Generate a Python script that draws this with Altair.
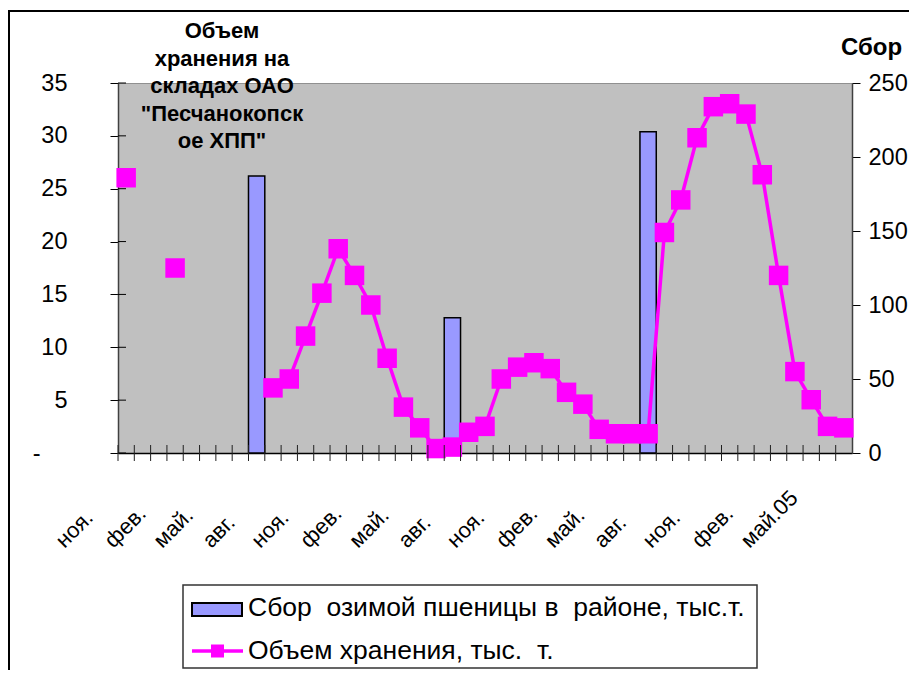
import altair as alt
import pandas as pd

FONT = "Liberation Sans"

# ---------------- data ----------------
months = ["окт.01", "ноя.01", "дек.01",
          "янв.02", "фев.02", "мар.02", "апр.02", "май.02", "июн.02",
          "июл.02", "авг.02", "сен.02", "окт.02", "ноя.02", "дек.02",
          "янв.03", "фев.03", "мар.03", "апр.03", "май.03", "июн.03",
          "июл.03", "авг.03", "сен.03", "окт.03", "ноя.03", "дек.03",
          "янв.04", "фев.04", "мар.04", "апр.04", "май.04", "июн.04",
          "июл.04", "авг.04", "сен.04", "окт.04", "ноя.04", "дек.04",
          "янв.05", "фев.05", "мар.05", "апр.05", "май.05", "июн.05"]

storage = [186, None, None, 125, None, None, None, None, None,
           44, 50, 79, 108, 138, 120, 100, 64, 31, 17, 3, 4,
           14, 18, 50, 58, 61, 57, 41, 33, 16, 13, 13, 13,
           149, 171, 213, 234, 236, 229, 188, 120, 55, 36, 18, 17]

harvest_cats = ["июн.02", "июн.03", "июн.04"]
harvest_vals = [26.2, 12.8, 30.4]

label_cats = ["ноя.01", "фев.02", "май.02", "авг.02", "ноя.02", "фев.03",
              "май.03", "авг.03", "ноя.03", "фев.04", "май.04", "авг.04",
              "ноя.04", "фев.05", "май.05"]
label_texts = ["ноя.", "фев.", "май.", "авг.", "ноя.", "фев.",
               "май.", "авг.", "ноя.", "фев.", "май.", "авг.",
               "ноя.", "фев.", "май.05"]

left_ticks = [0, 5, 10, 15, 20, 25, 30, 35]
right_ticks = [0, 50, 100, 150, 200, 250]

title_lines = ["Объем", "хранения на", "складах ОАО", "\"Песчанокопск", "ое ХПП\""]
series_bar = "Сбор\u00a0 озимой пшеницы в\u00a0 районе, тыс.т."
series_line = "Объем хранения, тыс.\u00a0 т."
right_title = "Сбор"

# ---------------- layout ----------------
W, H = 734, 370
PAD = {"left": 110, "top": 75, "right": 57, "bottom": 217}

X_SC = alt.Scale(domain=months, paddingInner=0, paddingOuter=0)
X_AX = alt.Axis(title=None, labels=False, ticks=False, grid=False,
                domainColor="black", domainWidth=1.5)


def xenc(**kw):
    return alt.X("m:N", scale=X_SC, axis=X_AX, **kw)


YL_SC = alt.Scale(domain=[0, 35], nice=False)
YL_AX = alt.Axis(title=None, orient="left", values=left_ticks, grid=False,
                 tickSize=8, tickColor="black", domainColor="#404040",
                 domainWidth=1.5, labelFont=FONT, labelFontSize=23.5,
                 labelColor="black",
                 labelPadding={"condition": {"test": "datum.value == 0", "value": 70},
                               "value": 43},
                 labelExpr="datum.value == 0 ? '-' : datum.label")

YR_SC = alt.Scale(domain=[0, 250], nice=False)
YR_AX = alt.Axis(title=right_title, orient="right", values=right_ticks, grid=False,
                 tickSize=8, tickColor="black", domainColor="#404040",
                 domainWidth=1.5, labelFont=FONT, labelFontSize=23.5,
                 labelColor="black", labelPadding=8,
                 titleFont=FONT, titleFontSize=24, titleFontWeight="bold",
                 titleColor="black", titleAngle=0, titleAlign="center",
                 titleBaseline="middle", titleX=19, titleY=-36)

one = pd.DataFrame({"a": [0]})

# frame
frame_top = alt.Chart(one).mark_rule(color="black", strokeWidth=2).encode(
    x=alt.value(-110), x2=alt.value(800), y=alt.value(-72))
frame_left = alt.Chart(one).mark_rule(color="black", strokeWidth=2).encode(
    x=alt.value(-109), y=alt.value(-73), y2=alt.value(620))

# bars (left axis)
bar_df = pd.DataFrame({"m": harvest_cats, "s": harvest_vals})
bars = alt.Chart(bar_df).mark_bar(color="#9999FF", stroke="black", strokeWidth=1.5).encode(
    x=xenc(), y=alt.Y("s:Q", scale=YL_SC, axis=YL_AX))
lticks = alt.Chart(pd.DataFrame({"s": left_ticks})).mark_rule(color="black").encode(
    y=alt.Y("s:Q", scale=YL_SC, axis=YL_AX), x=alt.value(0), x2=alt.value(8))
left = alt.layer(bars, lticks)

# line (right axis)
line_df = pd.DataFrame({"m": months, "v": storage})
line = alt.Chart(line_df).mark_line(color="#FF00FF", strokeWidth=3.5,
                                    invalid="break-paths-show-domains").encode(
    x=xenc(), y=alt.Y("v:Q", scale=YR_SC, axis=YR_AX))
pts = alt.Chart(line_df).transform_filter("isValid(datum.v)").mark_point(
    shape="square", filled=True, size=380, color="#FF00FF", opacity=1).encode(
    x=xenc(), y=alt.Y("v:Q", scale=YR_SC, axis=YR_AX))
right = alt.layer(line, pts)

# x ticks crossing the axis
xticks = alt.Chart(pd.DataFrame({"m": months})).mark_rule(color="#202020").encode(
    x=xenc(bandPosition=0), y=alt.value(H - 8), y2=alt.value(H + 8))

# x labels
lab_df = pd.DataFrame({"m": label_cats, "t": label_texts})
xlabels = alt.Chart(lab_df).mark_text(
    angle=315, align="left", baseline="middle", dx=-58.7, dy=-58.7,
    font=FONT, fontSize=22, color="black").encode(
    x=xenc(), y=alt.value(H + 91), text="t:N")

# title inside (first line centred at y=-52)
title = alt.Chart(pd.DataFrame({"t": ["\n".join(title_lines)]})).mark_text(
    font=FONT, fontSize=22, fontWeight="bold", lineBreak="\n", lineHeight=27.5,
    align="center", baseline="middle", color="black").encode(
    text="t:N", x=alt.value(104), y=alt.value(-52))

# legend
leg_box = alt.Chart(one).mark_rect(fill="white", stroke="#333333", strokeWidth=1.5).encode(
    x=alt.value(65), x2=alt.value(639), y=alt.value(502), y2=alt.value(585))
leg_rect = alt.Chart(one).mark_rect(fill="#9999FF", stroke="black", strokeWidth=2).encode(
    x=alt.value(74), x2=alt.value(124), y=alt.value(520), y2=alt.value(533))
leg_t1 = alt.Chart(pd.DataFrame({"t": [series_bar]})).mark_text(
    font=FONT, fontSize=26.5, align="left", baseline="middle", color="black").encode(
    text="t:N", x=alt.value(130), y=alt.value(525))
leg_rule = alt.Chart(one).mark_rule(color="#FF00FF", strokeWidth=3.5).encode(
    x=alt.value(74), x2=alt.value(125), y=alt.value(568))
leg_pt = alt.Chart(one).mark_point(shape="square", filled=True, size=169,
                                   color="#FF00FF", opacity=1).encode(
    x=alt.value(99.5), y=alt.value(568))
leg_t2 = alt.Chart(pd.DataFrame({"t": [series_line]})).mark_text(
    font=FONT, fontSize=26.5, align="left", baseline="middle", color="black").encode(
    text="t:N", x=alt.value(130), y=alt.value(568))

chart = alt.layer(
    frame_top, frame_left, left, right, xticks, xlabels, title,
    leg_box, leg_rect, leg_t1, leg_rule, leg_pt, leg_t2
).resolve_scale(y="independent").properties(
    width=W, height=H,
    autosize=alt.AutoSizeParams(type="none"),
    padding=PAD,
    background="white",
).configure_view(fill="#C0C0C0", stroke="#909090", strokeWidth=1)

chart.save("out.html", embed_options={"renderer": "svg", "actions": False})
